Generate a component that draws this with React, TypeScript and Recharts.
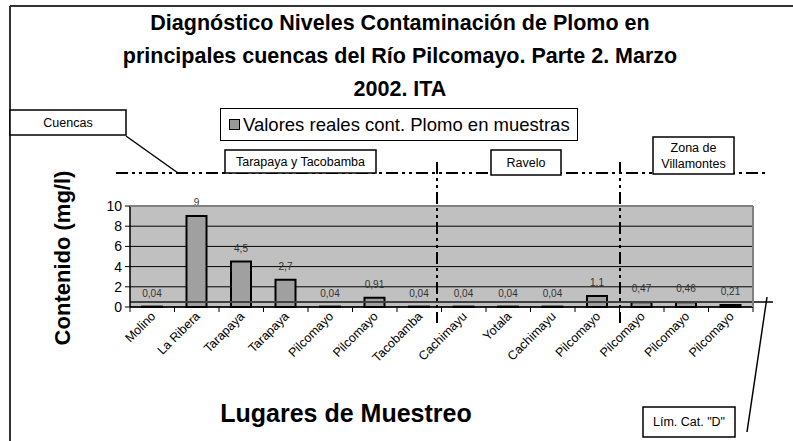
import { BarChart, Bar, XAxis, YAxis, CartesianGrid, Legend, LabelList, ReferenceLine } from 'recharts';

const CATEGORIES = [
  'Molino', 'La Ribera', 'Tarapaya', 'Tarapaya', 'Pilcomayo', 'Pilcomayo', 'Tacobamba',
  'Cachimayu', 'Yotala', 'Cachimayu', 'Pilcomayo', 'Pilcomayo', 'Pilcomayo', 'Pilcomayo',
];
const VALUES = [0.04, 9, 4.5, 2.7, 0.04, 0.91, 0.04, 0.04, 0.04, 0.04, 1.1, 0.47, 0.46, 0.21];
const Y_TICKS = [0, 2, 4, 6, 8, 10];
const LIMIT_D = 0.5;
const SERIES_NAME = 'Valores reales cont. Plomo en muestras';
const TITLE_LINES = [
  'Diagnóstico Niveles Contaminación de Plomo en',
  'principales cuencas del Río Pilcomayo. Parte 2. Marzo',
  '2002. ITA',
];

const FONT = "'Liberation Sans', Arial, sans-serif";
const W = 793;
const H = 441;
const PLOT = { left: 130, right: 753, top: 206, bottom: 307 };

const data = CATEGORIES.map((name, i) => ({ name, valor: VALUES[i] }));

const fmt = (v: any) => String(v).replace('.', ',');

function CategoryTick(props: any) {
  const { x, y, payload, index } = props;
  const half = payload?.offset || (PLOT.right - PLOT.left) / CATEGORIES.length / 2;
  const axisY = y - 7;
  return (
    <g>
      <line x1={x - half} y1={axisY} x2={x - half} y2={axisY + 5} stroke="#000" />
      {index === CATEGORIES.length - 1 && (
        <line x1={x + half} y1={axisY} x2={x + half} y2={axisY + 5} stroke="#000" />
      )}
      <text
        x={x + 4}
        y={y + 3}
        textAnchor="end"
        fontSize={12.5}
        fontFamily={FONT}
        fill="#000"
        transform={`rotate(-45, ${x + 4}, ${y + 3})`}
      >
        {payload.value}
      </text>
    </g>
  );
}

function LegendBox() {
  return (
    <div
      style={{
        width: 356,
        height: 31,
        border: '1px solid #000',
        background: '#fff',
        display: 'flex',
        alignItems: 'center',
        fontFamily: FONT,
        fontSize: 18.5,
        whiteSpace: 'nowrap',
        boxSizing: 'content-box',
      }}
    >
      <span
        style={{
          display: 'inline-block',
          width: 9,
          height: 9,
          background: '#999',
          border: '1.5px solid #000',
          marginLeft: 8,
          marginRight: 3,
          flexShrink: 0,
        }}
      />
      <span>{SERIES_NAME}</span>
    </div>
  );
}

function LimitShape(props: any) {
  const { x1, y1, x2, y2 } = props;
  return <line x1={x1} y1={y1} x2={x2 + 20} y2={y2} stroke="#404040" strokeWidth={2} />;
}

function NoteBox({ x, y, w, h, lines, size = 12.5 }: { x: number; y: number; w: number; h: number; lines: string[]; size?: number }) {
  const lh = size + 4;
  const start = y + h / 2 - ((lines.length - 1) * lh) / 2;
  return (
    <g>
      <rect x={x} y={y} width={w} height={h} fill="#fff" stroke="#000" strokeWidth={1.5} />
      {lines.map((t, i) => (
        <text key={i} x={x + w / 2} y={start + i * lh} dy="0.35em" textAnchor="middle" fontSize={size} fontFamily={FONT}>
          {t}
        </text>
      ))}
    </g>
  );
}

export default function App() {
  const dash = '12 4 3 4 3 4';
  return (
    <div style={{ position: 'absolute', left: 0, top: 0, width: W, height: H, background: '#fff' }}>
      <BarChart
        width={W}
        height={H}
        data={data}
        margin={{ left: PLOT.left - 30, right: W - PLOT.right, top: PLOT.top, bottom: H - PLOT.bottom - 60 }}
        barSize={20}
      >
        <CartesianGrid vertical={false} stroke="#000" fill="#C0C0C0" fillOpacity={1} />
        <XAxis
          dataKey="name"
          height={60}
          interval={0}
          tick={<CategoryTick />}
          tickLine={false}
          tickSize={5}
          tickMargin={2}
          axisLine={{ stroke: '#000', strokeWidth: 1.5 }}
        />
        <YAxis
          width={30}
          domain={[0, 10]}
          ticks={Y_TICKS}
          interval={0}
          tickSize={5}
          tickMargin={3}
          tick={{ fontSize: 14, fill: '#000', fontFamily: FONT }}
          tickLine={{ stroke: '#000' }}
          axisLine={{ stroke: '#000', strokeWidth: 1.5 }}
        />
        <Legend
          layout="horizontal"
          verticalAlign="middle"
          align="center"
          content={() => <LegendBox />}
          wrapperStyle={{ left: 220, top: 108, width: 358, height: 33 }}
        />
        <Bar dataKey="valor" name={SERIES_NAME} fill="#A0A0A0" stroke="#000" strokeWidth={2} isAnimationActive={false}>
          <LabelList dataKey="valor" position="top" offset={10} formatter={fmt} fontSize={10} fill="#333" fontFamily={FONT} />
        </Bar>
        <ReferenceLine y={LIMIT_D} shape={<LimitShape />} ifOverflow="visible" />
      </BarChart>

      <svg width={W} height={H} style={{ position: 'absolute', left: 0, top: 0, pointerEvents: 'none' }}>
        {/* frame */}
        <line x1={10} y1={6} x2={W} y2={6} stroke="#333" strokeWidth={2} />
        <line x1={10} y1={6} x2={10} y2={H} stroke="#333" strokeWidth={2} />

        {/* plot border top/right */}
        <line x1={PLOT.left} y1={PLOT.top} x2={PLOT.right} y2={PLOT.top} stroke="#808080" strokeWidth={2} />
        <line x1={PLOT.right} y1={PLOT.top} x2={PLOT.right} y2={PLOT.bottom} stroke="#808080" strokeWidth={2} />

        {TITLE_LINES.map((t, i) => (
          <text key={i} x={400} y={30 + i * 33} textAnchor="middle" fontSize={21.5} fontWeight="bold" fontFamily={FONT}>
            {t}
          </text>
        ))}

        {/* basin separators */}
        <line x1={116} y1={173} x2={768} y2={173} stroke="#000" strokeWidth={2} strokeDasharray={dash} />
        <line x1={437} y1={162} x2={437} y2={323} stroke="#000" strokeWidth={2} strokeDasharray={dash} />
        <line x1={620} y1={162} x2={620} y2={323} stroke="#000" strokeWidth={2} strokeDasharray={dash} />

        <line x1={126} y1={136} x2={178} y2={173} stroke="#000" strokeWidth={1.5} />
        <NoteBox x={10} y={110} w={116} h={25} lines={['Cuencas']} />
        <NoteBox x={225} y={150} w={151} h={23} lines={['Tarapaya y Tacobamba']} />
        <NoteBox x={491} y={150} w={70} h={25} lines={['Ravelo']} />
        <NoteBox x={653} y={137} w={81} h={37} lines={['Zona de', 'Villamontes']} />

        <line x1={767} y1={297} x2={747} y2={432} stroke="#000" strokeWidth={1.5} />
        <NoteBox x={643} y={407} w={92} h={30} lines={['Lím. Cat. "D"']} />

        <text
          x={62}
          y={258}
          textAnchor="middle"
          dy="0.35em"
          fontSize={22}
          fontWeight="bold"
          fontFamily={FONT}
          transform="rotate(-90, 62, 258)"
        >
          Contenido (mg/l)
        </text>
        <text x={346} y={413} dy="0.35em" textAnchor="middle" fontSize={25} fontWeight="bold" fontFamily={FONT}>
          Lugares de Muestreo
        </text>
      </svg>
    </div>
  );
}
